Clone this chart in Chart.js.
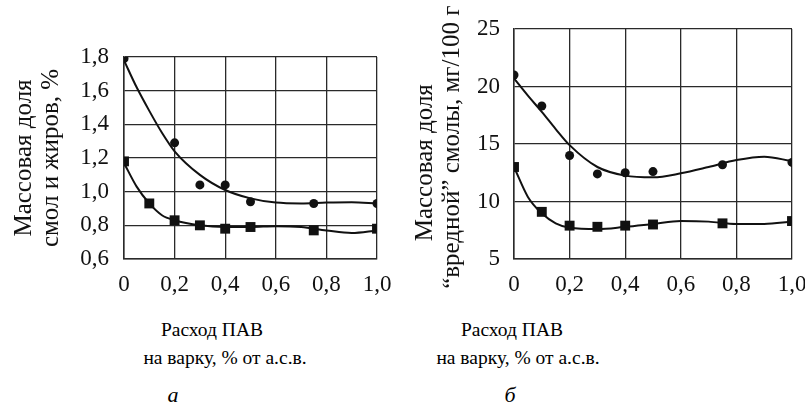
<!DOCTYPE html>
<html>
<head>
<meta charset="utf-8">
<script src="https://cdn.jsdelivr.net/npm/chart.js@4.4.0/dist/chart.umd.min.js"></script>
<style>
body { margin: 0; background: #fff; width: 805px; height: 410px; overflow: hidden; position: relative; font-family: "Liberation Serif", serif; color: #000; }
.box { position: absolute; top: 0; height: 300px; }
.lbl { position: absolute; font-size: 19.5px; white-space: nowrap; transform: translateX(-50%); line-height: 26px; }
.it { font-style: italic; font-size: 22px; }
</style>
</head>
<body>
<div class="box" style="left:0;width:400px"><canvas id="chartA"></canvas></div>
<div class="box" style="left:400px;width:405px"><canvas id="chartB"></canvas></div>

<div class="lbl" style="left:212px;top:317px">Расход ПАВ</div>
<div class="lbl" style="left:225px;top:345px">на варку, % от а.с.в.</div>
<div class="lbl it" style="left:173px;top:382px">а</div>
<div class="lbl" style="left:512px;top:317px">Расход ПАВ</div>
<div class="lbl" style="left:518px;top:345px">на варку, % от а.с.в.</div>
<div class="lbl it" style="left:510px;top:382px">б</div>

<script>
// x ticks shared by both charts
const xTicks = ['0', '0,2', '0,4', '0,6', '0,8', '1,0'];

// chart a: smol i zhirov, %
const aTicks = ['0,6', '0,8', '1,0', '1,2', '1,4', '1,6', '1,8'];
const aCircX = [0, 0.2, 0.3, 0.4, 0.5, 0.75, 1.0];
const aCircY = [1.79, 1.29, 1.04, 1.04, 0.94, 0.93, 0.93];
const aSqX = [0, 0.1, 0.2, 0.3, 0.4, 0.5, 0.75, 1.0];
const aSqY = [1.18, 0.93, 0.83, 0.80, 0.78, 0.79, 0.77, 0.78];

// chart b: vrednaya smola, mg/100 g
const bTicks = ['5', '10', '15', '20', '25'];
const bX = [0, 0.1, 0.2, 0.3, 0.4, 0.5, 0.75, 1.0];
const bCircY = [21.0, 18.3, 14.0, 12.4, 12.5, 12.6, 13.2, 13.4];
const bSqY = [13.0, 9.1, 7.9, 7.8, 7.9, 8.0, 8.1, 8.3];

// trend curves
const curveX = [0, 0.05, 0.1, 0.15, 0.2, 0.3, 0.4, 0.5, 0.6, 0.7, 0.8, 0.9, 1.0];
const aCurve1 = [1.78, 1.62, 1.48, 1.35, 1.24, 1.10, 1.01, 0.96, 0.935, 0.93, 0.935, 0.937, 0.93];
const aCurve2 = [1.17, 1.03, 0.93, 0.86, 0.83, 0.80, 0.79, 0.79, 0.795, 0.79, 0.77, 0.755, 0.77];
const bCurve1 = [20.7, 19.2, 17.8, 16.3, 14.9, 13.0, 12.25, 12.1, 12.45, 13.0, 13.6, 13.9, 13.5];
const bCurve2 = [13.0, 10.4, 8.97, 8.1, 7.72, 7.6, 7.8, 8.05, 8.3, 8.25, 8.05, 8.05, 8.25];

const ink = '#111';
const gridColor = '#2a2a2a';
const family = '"Liberation Serif", "Times New Roman", serif';
const tickFont = { family: family, size: 23 };

function pts(xs, ys) {
    return xs.map((x, i) => ({ x: x, y: ys[i] }));
}

function curve(xs, ys) {
    return {
        type: 'line', data: pts(xs, ys), borderColor: ink, borderWidth: 2,
        pointRadius: 0, cubicInterpolationMode: 'monotone', fill: false
    };
}

function marks(xs, ys, style, r) {
    return {
        type: 'scatter', data: pts(xs, ys), pointStyle: style, pointRadius: r,
        backgroundColor: ink, borderColor: ink, borderWidth: 0
    };
}

function makeChart(id, cfg) {
    const ctx = document.getElementById(id);
    new Chart(ctx, {
        data: { datasets: cfg.datasets },
        options: {
            responsive: true,
            maintainAspectRatio: false,
            animation: false,
            layout: { padding: { top: cfg.top, right: cfg.right, bottom: 0, left: 0 } },
            plugins: { legend: { display: false }, tooltip: { enabled: false } },
            scales: {
                x: {
                    type: 'linear', min: 0, max: 1,
                    ticks: {
                        stepSize: 0.2, color: ink, font: tickFont, padding: 12, maxRotation: 0,
                        callback: (v, i) => xTicks[i]
                    },
                    grid: { color: gridColor, lineWidth: 1.3, drawTicks: false },
                    border: { color: gridColor, width: 1.5 },
                    afterFit: s => { s.height = 300 - cfg.bottom; s.paddingLeft = 0; s.paddingRight = 0; }
                },
                y: {
                    min: cfg.min, max: cfg.max,
                    ticks: {
                        stepSize: cfg.step, color: ink, font: tickFont, padding: cfg.tickPad,
                        callback: (v, i) => cfg.ticks[i]
                    },
                    grid: { color: gridColor, lineWidth: 1.3, drawTicks: false },
                    border: { color: gridColor, width: 1.5 },
                    title: {
                        display: true, text: cfg.title, color: ink,
                        font: { family: family, size: 25, lineHeight: 27 / 25 },
                        padding: { top: cfg.titlePad, bottom: 0 }
                    },
                    afterFit: s => { s.width = cfg.left; s.paddingTop = 0; s.paddingBottom = 0; }
                }
            }
        }
    });
}

makeChart('chartA', {
    datasets: [
        curve(curveX, aCurve1), curve(curveX, aCurve2),
        marks(aCircX, aCircY, 'circle', 4.5), marks(aSqX, aSqY, 'rect', 7)
    ],
    top: 57, bottom: 259, left: 124, right: 400 - 377,
    min: 0.6, max: 1.8, step: 0.2, ticks: aTicks, tickPad: 15,
    title: ['Массовая доля', 'смол и жиров, %'], titlePad: 10.5
});

makeChart('chartB', {
    datasets: [
        curve(curveX, bCurve1), curve(curveX, bCurve2),
        marks(bX, bCircY, 'circle', 4.5), marks(bX, bSqY, 'rect', 7)
    ],
    top: 29, bottom: 259, left: 114, right: 405 - 392,
    min: 5, max: 25, step: 5, ticks: bTicks, tickPad: 14,
    title: ['Массовая доля\u00a0\u00a0\u00a0\u00a0\u00a0\u00a0', '\u201cвредной\u201d смолы, мг/100 г\u00a0'],
    titlePad: 11.5
});
</script>
</body>
</html>
